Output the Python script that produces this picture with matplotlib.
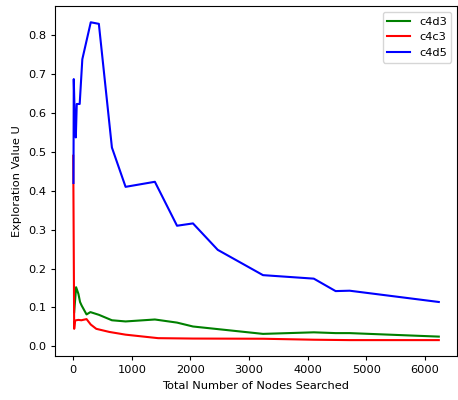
import matplotlib
matplotlib.use('Agg')
import matplotlib.pyplot as plt

# Données
x_c4d3 = [17, 50, 89, 117, 144, 228, 294, 439, 661, 894, 1394, 1772, 2044, 3239, 4106, 4478, 4717, 6239]
u_c4d3 = [0.088, 0.152, 0.135, 0.114, 0.105, 0.082, 0.088, 0.081, 0.067, 0.064, 0.069, 0.061, 0.051,
          0.032, 0.036, 0.034, 0.034, 0.025]

x_c4c3 = [1, 17, 30, 50, 89, 139, 228, 300, 394, 617, 894, 1450, 2044, 3239, 4106, 4717, 6239]
u_c4c3 = [0.49, 0.045, 0.065, 0.067, 0.068, 0.067, 0.07, 0.056, 0.045, 0.037, 0.03, 0.021, 0.02,
          0.0195, 0.017, 0.016, 0.016]

x_c4d5 = [5, 10, 30, 45, 61, 78, 111, 156, 300, 438, 661, 894, 1394, 1772, 2044, 2467, 3239, 4106,
          4478, 4717, 6239]
u_c4d5 = [0.42, 0.687, 0.567, 0.537, 0.623, 0.623, 0.623, 0.738, 0.833, 0.829, 0.511, 0.41, 0.423,
          0.31, 0.316, 0.248, 0.183, 0.174, 0.142, 0.143, 0.114]

plt.rcParams['font.size'] = 8.2

fig, ax = plt.subplots(figsize=(4.58, 4.0), dpi=100)
ax.plot(x_c4d3, u_c4d3, color='green', label='c4d3')
ax.plot(x_c4c3, u_c4c3, color='red', label='c4c3')
ax.plot(x_c4d5, u_c4d5, color='blue', label='c4d5')

ax.set_xlabel('Total Number of Nodes Searched')
ax.set_ylabel('Exploration Value U')
ax.legend(loc='upper right')
ax.tick_params(length=3)

fig.subplots_adjust(left=0.12, right=0.998, top=0.984, bottom=0.11)
fig.savefig('out.png')
